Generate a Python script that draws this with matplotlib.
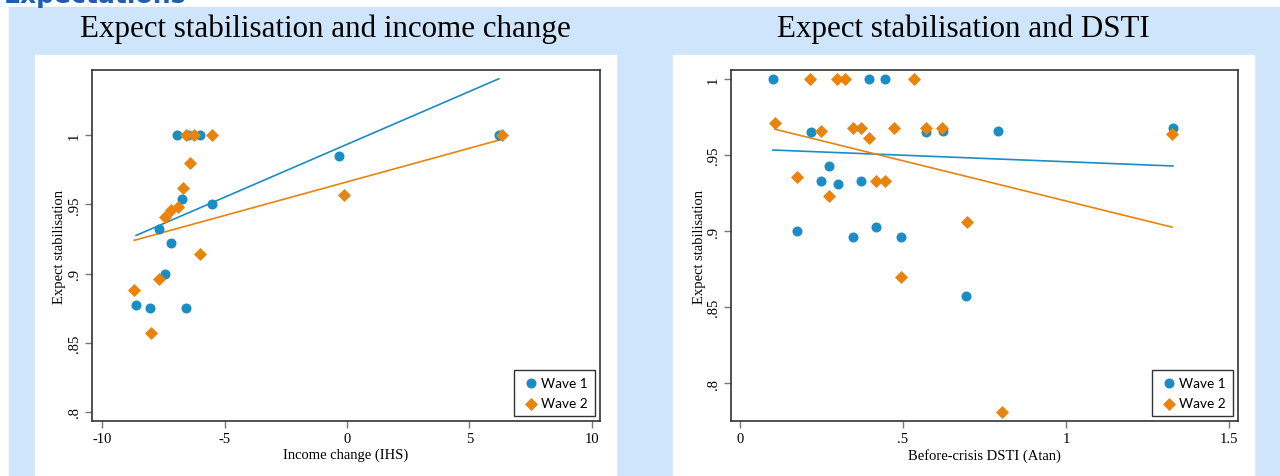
import numpy as np
import matplotlib
matplotlib.use("Agg")
from matplotlib import pyplot as plt
from matplotlib.patches import Rectangle

# left panel: income change (IHS) vs expect stabilisation
inc_w1_x = [-6.94, -6.5, -6.0, -6.73, -5.51, -7.67, -7.18, -7.43, -8.61, -8.04, -6.57, -0.33, 6.2]
inc_w1_y = [1.0, 1.0, 1.0, 0.954, 0.950, 0.932, 0.922, 0.900, 0.877, 0.875, 0.875, 0.985, 1.0]
inc_w2_x = [-6.57, -6.24, -5.51, -6.41, -6.69, -6.9, -7.18, -7.43, -6.0, -8.69, -7.67, -8.0, -0.12, 6.33]
inc_w2_y = [1.0, 1.0, 1.0, 0.980, 0.962, 0.948, 0.946, 0.941, 0.914, 0.888, 0.896, 0.857, 0.957, 1.0]
# linear fits (intercept, slope)
inc_fit_w1 = (0.9933, 0.00764)
inc_fit_w2 = (0.9662, 0.00486)

# right panel: before-crisis DSTI (Atan) vs expect stabilisation
dsti_w1_x = [0.101, 0.396, 0.445, 0.218, 0.273, 0.248, 0.301, 0.371, 0.175, 0.347,
             0.417, 0.494, 0.571, 0.623, 0.792, 1.328, 0.693]
dsti_w1_y = [1.0, 1.0, 1.0, 0.965, 0.943, 0.933, 0.931, 0.933, 0.900, 0.896,
             0.903, 0.896, 0.965, 0.966, 0.966, 0.968, 0.857]
dsti_w2_x = [0.107, 0.215, 0.298, 0.322, 0.534, 0.248, 0.347, 0.371, 0.396, 0.472,
             0.571, 0.620, 0.175, 0.273, 0.417, 0.445, 0.494, 0.696, 1.325, 0.804]
dsti_w2_y = [0.971, 1.0, 1.0, 1.0, 1.0, 0.966, 0.968, 0.968, 0.961, 0.968,
             0.968, 0.968, 0.9355, 0.923, 0.933, 0.933, 0.870, 0.906, 0.964, 0.781]
dsti_fit_w1 = (0.9542, -0.00856)
dsti_fit_w2 = (0.9727, -0.0529)

BLUE = "#1a8dc4"
ORANGE = "#e8830c"
BAND = "#cfe5fb"
SERIF = "Liberation Serif"


def scatter_panel(ax, x1, y1, x2, y2, fit1, fit2, xlab, xticks, xticklabels,
                  xlim, yticks, yticklabels, ylim):
    for x, fit, c in ((x1, fit1, BLUE), (x2, fit2, ORANGE)):
        xs = np.array([min(x), max(x)])
        ax.plot(xs, fit[0] + fit[1]*xs, color=c, lw=1.2, zorder=2)
    ax.scatter(x1, y1, s=52, marker="o", color=BLUE, linewidths=0, zorder=3, label="Wave 1")
    ax.scatter(x2, y2, s=44, marker="D", color=ORANGE, linewidths=0, zorder=3, label="Wave 2")
    ax.set_xlim(*xlim)
    ax.set_ylim(*ylim)
    ax.set_xticks(xticks)
    ax.set_xticklabels(xticklabels, family=SERIF, fontsize=10.5)
    ax.set_yticks(yticks)
    ax.set_yticklabels(yticklabels, family=SERIF, fontsize=10.5, rotation=90, va="center")
    ax.tick_params(direction="out", length=5, width=1, color="#777777", pad=3)
    for sp in ax.spines.values():
        sp.set_color("#333333")
        sp.set_linewidth(1.2)
    ax.set_xlabel(xlab, family=SERIF, fontsize=10.5, labelpad=2)
    ax.set_ylabel("Expect stabilisation", family=SERIF, fontsize=10.5, labelpad=1)
    leg = ax.legend(loc="lower right", frameon=True, fancybox=False, edgecolor="black",
                    prop={"family": "Lato", "size": 9.8}, handletextpad=0.1,
                    borderpad=0.5, labelspacing=0.6, handlelength=1.4,
                    borderaxespad=0, bbox_to_anchor=(1 - 5/508, 5/351))
    leg.get_frame().set_linewidth(1.0)


fig = plt.figure(figsize=(12.8, 4.77), dpi=100)
W, H = 1280, 477

# background band and white panels
fig.patches.append(Rectangle((9/W, 0), 1 - 9/W, (H - 8)/H, transform=fig.transFigure,
                             color=BAND, zorder=-3))
for x0, x1 in ((35, 616), (673, 1254)):
    fig.patches.append(Rectangle((x0/W, 0), (x1 - x0)/W, (H - 56)/H,
                                 transform=fig.transFigure, color="white", zorder=-2))

fig.text(4/W, 1 - 3/H, "Expectations", color="#1a5fb4", fontsize=18, weight="bold",
         family="DejaVu Sans", va="baseline", ha="left")
fig.text(325.5/W, 1 - 37/H, "Expect stabilisation and income change", family=SERIF,
         fontsize=22.3, ha="center", va="baseline")
fig.text(963.5/W, 1 - 37/H, "Expect stabilisation and DSTI", family=SERIF,
         fontsize=22.3, ha="center", va="baseline")

ax1 = fig.add_axes([92/W, 55/H, 508/W, 351/H])
ax2 = fig.add_axes([731/W, 55/H, 507/W, 351/H])

scatter_panel(ax1, inc_w1_x, inc_w1_y, inc_w2_x, inc_w2_y, inc_fit_w1, inc_fit_w2,
              "Income change (IHS)", [-10, -5, 0, 5, 10], ["-10", "-5", "0", "5", "10"],
              (-10.41, 10.33), [0.8, 0.85, 0.9, 0.95, 1.0], [".8", ".85", ".9", ".95", "1"],
              (0.7935, 1.047))
scatter_panel(ax2, dsti_w1_x, dsti_w1_y, dsti_w2_x, dsti_w2_y, dsti_fit_w1, dsti_fit_w2,
              "Before-crisis DSTI (Atan)", [0, 0.5, 1, 1.5], ["0", ".5", "1", "1.5"],
              (-0.0276, 1.5276), [0.8, 0.85, 0.9, 0.95, 1.0], [".8", ".85", ".9", ".95", "1"],
              (0.775, 1.006))

plt.savefig("out.png", dpi=100)
plt.close()
